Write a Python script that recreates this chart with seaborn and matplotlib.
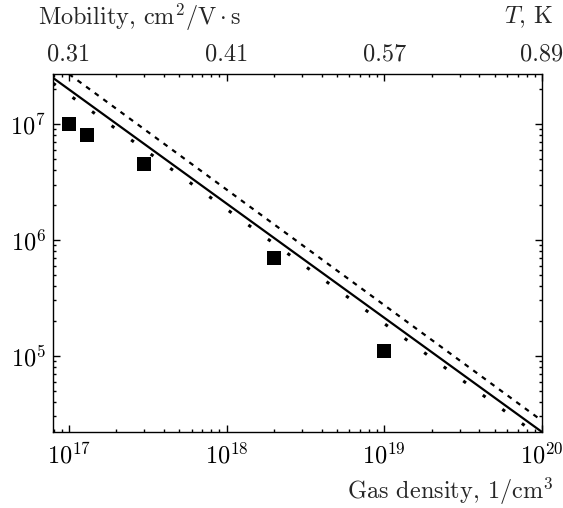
import matplotlib
matplotlib.use("Agg")
import matplotlib.pyplot as plt
import matplotlib.ticker as mticker
import seaborn as sns

# ---- data ----
density_pts = [1.0e17, 1.3e17, 3.0e17, 2.0e18, 1.0e19]
mobility_pts = [1.0e7, 8.0e6, 4.5e6, 7.0e5, 1.1e5]

solid_x = [7.93e16, 1.0e20]
solid_y = [2.5e7, 2.2e4]

dashed_x = [1.0e17, 1.0e20]
dashed_y = [2.7e7, 2.75e4]

dotted_x = [7.93e16, 1.0e20]
dotted_y = [2.25e7, 1.95e4]

bottom_ticks = [1e17, 1e18, 1e19, 1e20]
bottom_labels = [r"$10^{17}$", r"$10^{18}$", r"$10^{19}$", r"$10^{20}$"]
top_labels = ["0.31", "0.41", "0.57", "0.89"]
y_ticks = [1e5, 1e6, 1e7]
y_labels = [r"$10^{5}$", r"$10^{6}$", r"$10^{7}$"]

sns.set_theme(style="ticks")
plt.rcParams["font.family"] = ["cmr10", "DejaVu Serif"]
plt.rcParams["mathtext.fontset"] = "cm"
plt.rcParams["axes.unicode_minus"] = False

FS = 17.5

fig = plt.figure(figsize=(5.63, 5.08), dpi=100)
ax = fig.add_axes([53 / 563, 1 - 432 / 508, (542 - 53) / 563, (432 - 74) / 508])
ax.set_xscale("log")
ax.set_yscale("log")

sns.lineplot(x=solid_x, y=solid_y, ax=ax, color="black", lw=1.6, linestyle="-")
sns.lineplot(x=dashed_x, y=dashed_y, ax=ax, color="black", lw=1.6,
             linestyle=(0, (2.2, 2.6)))
sns.lineplot(x=dotted_x, y=dotted_y, ax=ax, color="black", lw=2.2,
             linestyle=(0, (1.1, 6.8)))
sns.scatterplot(x=density_pts, y=mobility_pts, ax=ax, marker="s", s=100,
                color="black", edgecolor="none", zorder=5)

ax.set_xlim(7.93e16, 1.0e20)
ax.set_ylim(2.2e4, 2.7e7)

for s in ax.spines.values():
    s.set_linewidth(1.0)
    s.set_color("black")

ax.set_xticks(bottom_ticks)
ax.set_xticklabels(bottom_labels)
ax.set_yticks(y_ticks)
ax.set_yticklabels(y_labels)
ax.xaxis.set_minor_locator(mticker.LogLocator(base=10, subs=range(2, 10), numticks=20))
ax.yaxis.set_minor_locator(mticker.LogLocator(base=10, subs=range(2, 10), numticks=20))
ax.xaxis.set_minor_formatter(mticker.NullFormatter())
ax.yaxis.set_minor_formatter(mticker.NullFormatter())

ax.tick_params(which="both", direction="in", top=True, right=True, colors="black",
               labelsize=FS, width=1.0)
ax.tick_params(which="major", length=5)
ax.tick_params(which="minor", length=2.5)
ax.tick_params(axis="x", which="major", pad=8)
ax.tick_params(axis="y", which="major", pad=5)

sec = ax.secondary_xaxis("top")
sec.set_xticks(bottom_ticks)
sec.set_xticklabels(top_labels)
sec.xaxis.set_minor_locator(mticker.NullLocator())
sec.tick_params(which="both", direction="in", length=0, labelsize=FS, pad=6)
sec.spines["top"].set_visible(False)

fig.text(38 / 563, 1 - 17 / 508, r"Mobility, $\mathrm{cm}^2/\mathrm{V}\cdot\mathrm{s}$",
         fontsize=FS, ha="left", va="center")
fig.text(553 / 563, 1 - 17 / 508, r"$T$, K", fontsize=FS, ha="right", va="center")
fig.text(553 / 563, 1 - 491 / 508, r"Gas density, $1/\mathrm{cm}^3$",
         fontsize=FS, ha="right", va="center")

fig.savefig("out.png", dpi=100)
